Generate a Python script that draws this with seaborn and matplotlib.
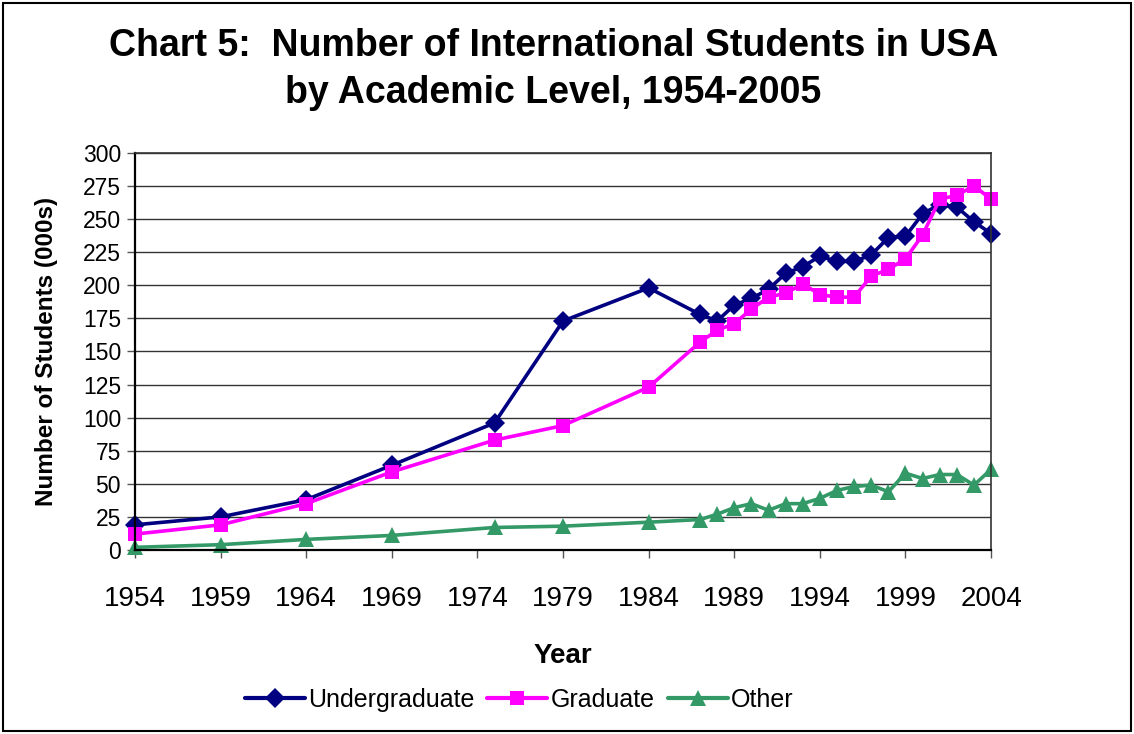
import numpy as np
import pandas as pd
import matplotlib
matplotlib.use('Agg')
import matplotlib.pyplot as plt
from matplotlib.patches import Rectangle
import seaborn as sns

years = [1954, 1959, 1964, 1969, 1975, 1979, 1984, 1987, 1988, 1989, 1990, 1991,
         1992, 1993, 1994, 1995, 1996, 1997, 1998, 1999, 2000, 2001, 2002, 2003, 2004]
undergraduate = [19, 25, 38, 64, 96, 173, 198, 178, 173, 185, 190, 197,
                 209, 214, 222, 218, 218, 223, 236, 237, 254, 261, 259, 248, 239]
graduate = [12, 19, 35, 59, 83, 94, 123, 157, 166, 171, 182, 191,
            194, 201, 193, 191, 191, 207, 212, 220, 238, 265, 268, 275, 265]
other = [2, 4, 8, 11, 17, 18, 21, 23, 27, 32, 35, 30,
         35, 35, 39, 45, 48, 49, 44, 58, 54, 57, 57, 49, 61]

series_names = ['Undergraduate', 'Graduate', 'Other']
palette = {'Undergraduate': '#000080', 'Graduate': '#FF00FF', 'Other': '#339966'}
markers = {'Undergraduate': 'D', 'Graduate': 's', 'Other': '^'}
msizes = {'Undergraduate': 10, 'Graduate': 9.5, 'Other': 11.5}

df = pd.concat([
    pd.DataFrame({'Year': years, 'Students': vals, 'Level': name})
    for name, vals in zip(series_names, [undergraduate, graduate, other])
])

sns.set_style('white')
plt.rcParams['font.family'] = ['Liberation Sans', 'DejaVu Sans']
plt.rcParams['text.color'] = 'black'
plt.rcParams['axes.labelcolor'] = 'black'
plt.rcParams['xtick.color'] = 'black'
plt.rcParams['ytick.color'] = 'black'

fig = plt.figure(figsize=(11.34, 7.34), dpi=100)
ax = fig.add_axes([0.119, 0.2507, 0.755, 0.541])

for name in series_names:
    sns.lineplot(data=df[df['Level'] == name], x='Year', y='Students',
                 color=palette[name], marker=markers[name], linewidth=2.6,
                 markersize=msizes[name], markeredgewidth=0, clip_on=False,
                 ax=ax, legend=False)

ax.set_xlim(1954, 2004)
ax.set_ylim(0, 300)
ax.set_xticks(np.arange(1954, 2005, 5))
ax.set_yticks(np.arange(0, 301, 25))
ax.yaxis.grid(True, color='#333333', linewidth=1.0)
ax.xaxis.grid(False)
ax.tick_params(axis='x', labelsize=20, length=6, width=1, direction='out',
               bottom=True, pad=20, color='#555555')
ax.tick_params(axis='y', labelsize=16.5, length=6, width=1, direction='out',
               left=True, pad=4, color='#555555')
for side in ['left', 'bottom']:
    ax.spines[side].set_color('black')
    ax.spines[side].set_linewidth(1.6)
for side in ['top', 'right']:
    ax.spines[side].set_color('#333333')
    ax.spines[side].set_linewidth(1.2)

ax.set_xlabel('Year', fontsize=20, fontweight='bold', labelpad=22)
ax.set_ylabel('Number of Students (000s)', fontsize=17.5, fontweight='bold', labelpad=18)

fig.text(0.488, 0.938, 'Chart 5:  Number of International Students in USA',
         ha='center', va='center', fontsize=27, fontweight='bold')
fig.text(0.488, 0.873, 'by Academic Level, 1954-2005',
         ha='center', va='center', fontsize=27, fontweight='bold')

handles = [plt.Line2D([], [], color=palette[n], marker=markers[n], linewidth=3,
                      markersize=msizes[n], markeredgewidth=0) for n in series_names]
fig.legend(handles, series_names, loc='center', bbox_to_anchor=(0.458, 0.046),
           ncol=3, frameon=False, fontsize=18, handlelength=2.4,
           handletextpad=0.15, columnspacing=0.5)

fig.patches.append(Rectangle((0.003, 0.004), 0.994, 0.992, transform=fig.transFigure,
                             fill=False, edgecolor='black', linewidth=1.5))

fig.savefig('out.png', dpi=100)
